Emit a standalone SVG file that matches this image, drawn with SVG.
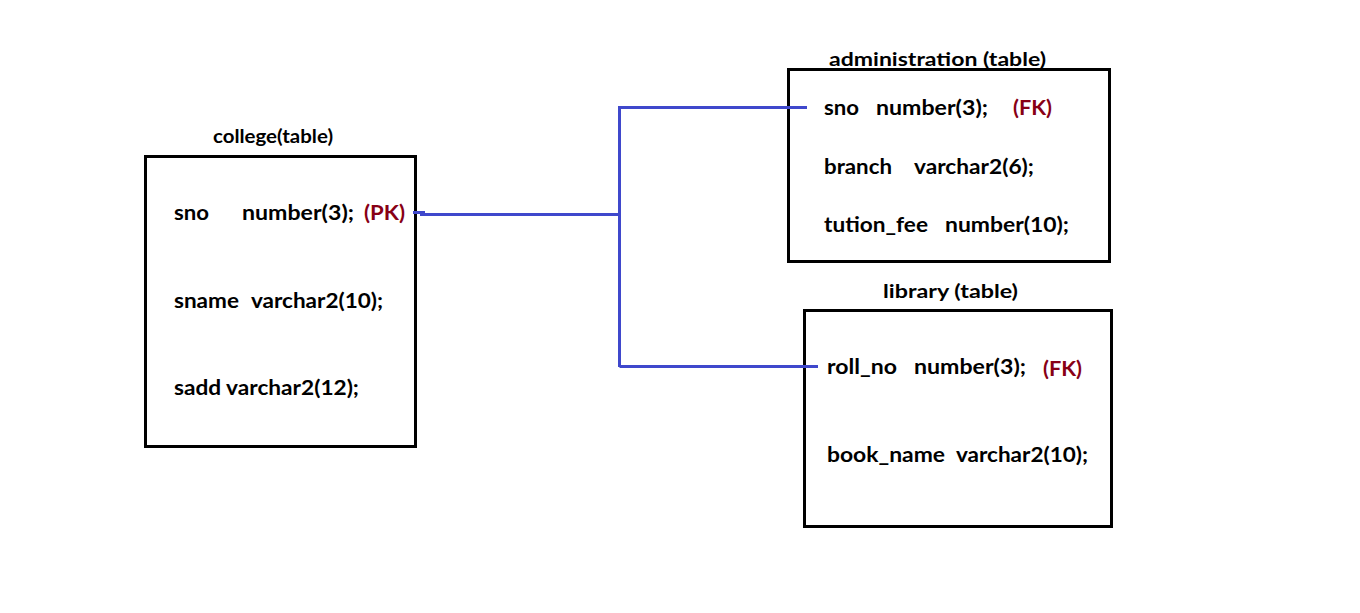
<svg xmlns="http://www.w3.org/2000/svg" width="1360" height="613" viewBox="0 0 1360 613">
<style>
.box{fill:#fff;stroke:#000;stroke-width:3}
.t{font-family:Lato,"Open Sans","Liberation Sans",sans-serif;font-weight:bold;font-size:21px;fill:#000}
.h{font-family:Lato,"Open Sans","Liberation Sans",sans-serif;font-weight:bold;font-size:19px;fill:#000}
.k{fill:#880015}
.c{fill:none;stroke:#3f48cc;stroke-width:3}
</style>
<rect width="1360" height="613" fill="#fff"/>
<g id="college">
<rect class="box" x="145.5" y="156.5" width="270" height="290"/>
<text class="h" x="213" y="143" textLength="120" lengthAdjust="spacingAndGlyphs">college(table)</text>
<text class="t" x="174" y="220" textLength="35" lengthAdjust="spacingAndGlyphs">sno</text>
<text class="t" x="242" y="220" textLength="112" lengthAdjust="spacingAndGlyphs">number(3);</text>
<text class="t k" x="364" y="220" textLength="41" lengthAdjust="spacingAndGlyphs">(PK)</text>
<text class="t" x="174" y="308" textLength="65" lengthAdjust="spacingAndGlyphs">sname</text>
<text class="t" x="251" y="308" textLength="132" lengthAdjust="spacingAndGlyphs">varchar2(10);</text>
<text class="t" x="174" y="395" textLength="185" lengthAdjust="spacingAndGlyphs">sadd varchar2(12);</text>
</g>
<g id="administration">
<rect class="box" x="788.5" y="69.5" width="321" height="192"/>
<text class="h" x="829" y="66" textLength="217" lengthAdjust="spacingAndGlyphs">administration (table)</text>
<text class="t" x="824" y="115" textLength="35" lengthAdjust="spacingAndGlyphs">sno</text>
<text class="t" x="876" y="115" textLength="112" lengthAdjust="spacingAndGlyphs">number(3);</text>
<text class="t k" x="1013" y="115" textLength="39" lengthAdjust="spacingAndGlyphs">(FK)</text>
<text class="t" x="824" y="174" textLength="68" lengthAdjust="spacingAndGlyphs">branch</text>
<text class="t" x="914" y="174" textLength="120" lengthAdjust="spacingAndGlyphs">varchar2(6);</text>
<text class="t" x="824" y="232" textLength="104" lengthAdjust="spacingAndGlyphs">tution_fee</text>
<text class="t" x="945" y="232" textLength="124" lengthAdjust="spacingAndGlyphs">number(10);</text>
</g>
<g id="library">
<rect class="box" x="804.5" y="310.5" width="307" height="216"/>
<text class="h" x="883" y="298" textLength="135" lengthAdjust="spacingAndGlyphs">library (table)</text>
<text class="t" x="827" y="374" textLength="70" lengthAdjust="spacingAndGlyphs">roll_no</text>
<text class="t" x="914" y="374" textLength="112" lengthAdjust="spacingAndGlyphs">number(3);</text>
<text class="t k" x="1043" y="376" textLength="39" lengthAdjust="spacingAndGlyphs">(FK)</text>
<text class="t" x="827" y="462" textLength="118" lengthAdjust="spacingAndGlyphs">book_name</text>
<text class="t" x="956" y="462" textLength="132" lengthAdjust="spacingAndGlyphs">varchar2(10);</text>
</g>
<g id="connectors">
<path class="c" d="M413 212.5H425M420 214.5H619.5M619.5 106V367M619.5 107.5H807M619.5 366.5H818"/>
</g>
</svg>
